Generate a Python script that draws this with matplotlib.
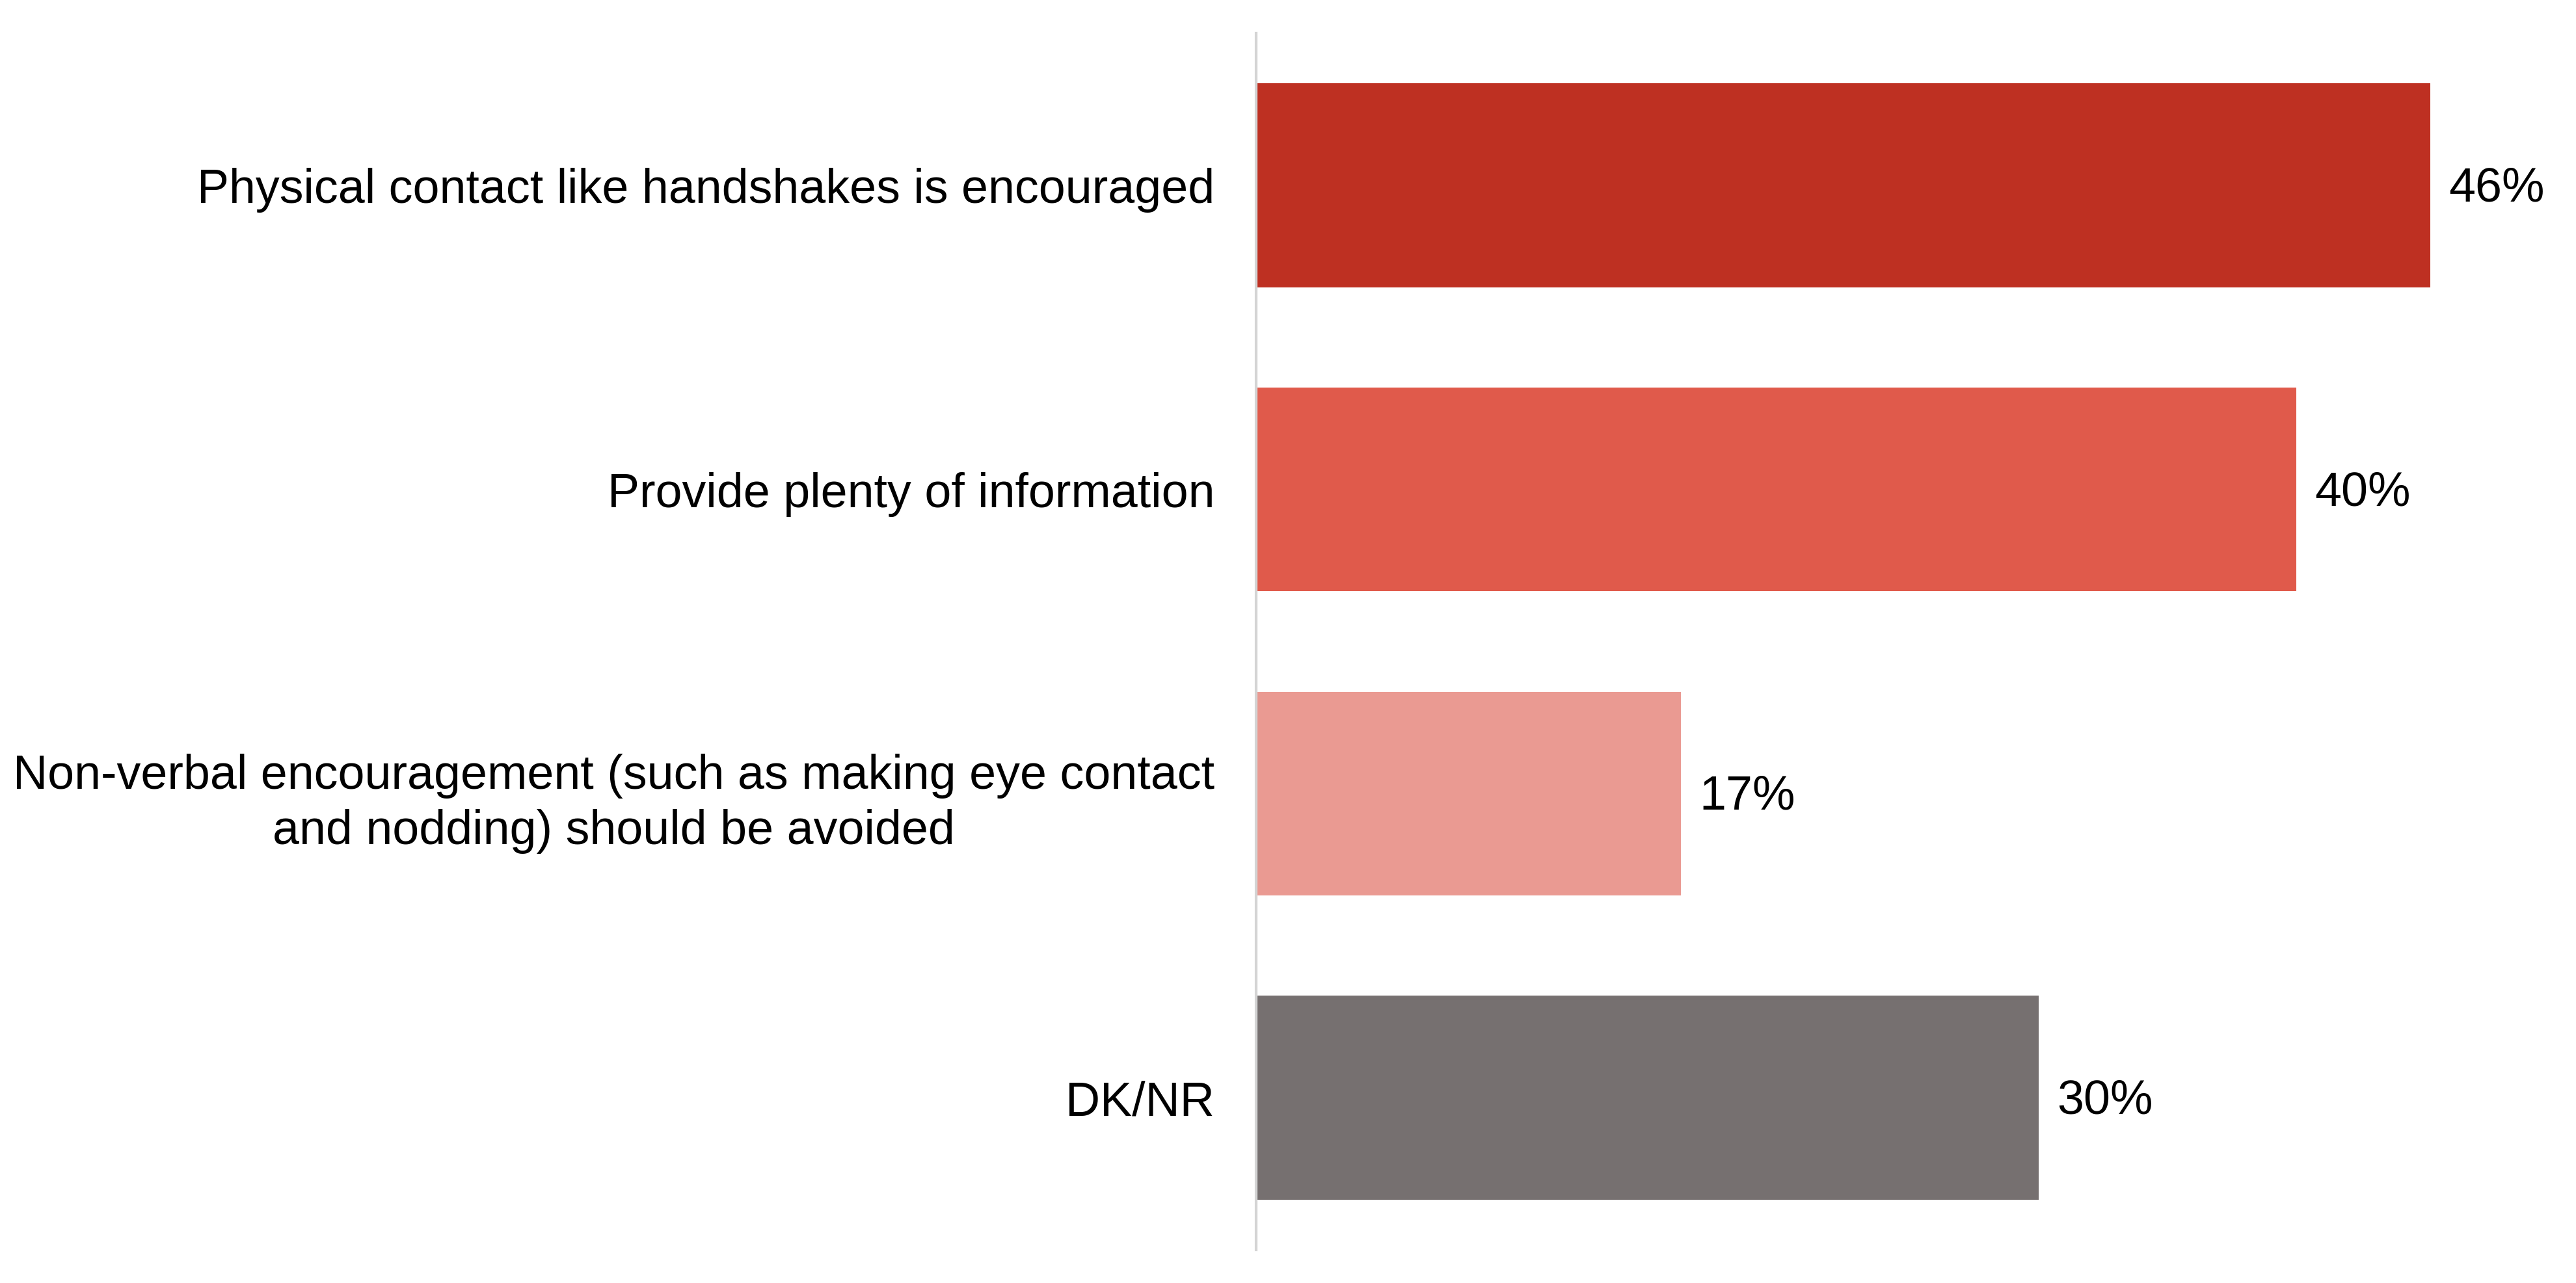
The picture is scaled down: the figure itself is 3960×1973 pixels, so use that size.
import matplotlib.pyplot as plt

categories = [
    "Physical contact like handshakes is encouraged",
    "Provide plenty of information",
    "Non-verbal encouragement (such as making eye contact\nand nodding) should be avoided",
    "DK/NR",
]
values = [45.6, 40.4, 16.5, 30.4]
value_labels = ["46%", "40%", "17%", "30%"]
colors = ["#BE3022", "#E05A4B", "#EA9A92", "#767070"]

plt.rcParams['font.family'] = ['Liberation Sans', 'DejaVu Sans']

W, H = 3960, 1973
fig = plt.figure(figsize=(W / 100, H / 100), dpi=100)
# axes placed in pixel units
left, right = 1931, 3910
top, bottom = 51, 1922
ax = fig.add_axes([left / W, 1 - bottom / H, (right - left) / W, (bottom - top) / H])

ypos = list(range(len(categories)))
ax.barh(ypos, values, height=0.67, color=colors)
ax.set_ylim(len(categories) - 0.5, -0.5)
ax.set_xlim(0, (right - left) / 39.58)

for y, v, lab in zip(ypos, values, value_labels):
    ax.annotate(lab, (v, y), xytext=(28, -5), textcoords='offset pixels',
                ha='left', va='center', fontsize=53, color='black')

ax.set_yticks(ypos)
ax.set_yticklabels(categories, fontsize=53, multialignment='center', linespacing=1.3)
ax.tick_params(axis='y', length=0, pad=46)
ax.set_xticks([])

for s in ['top', 'right', 'bottom']:
    ax.spines[s].set_visible(False)
ax.spines['left'].set_color('#D4D4D4')
ax.spines['left'].set_linewidth(3)

fig.savefig('out.png', dpi=100, facecolor='white')
